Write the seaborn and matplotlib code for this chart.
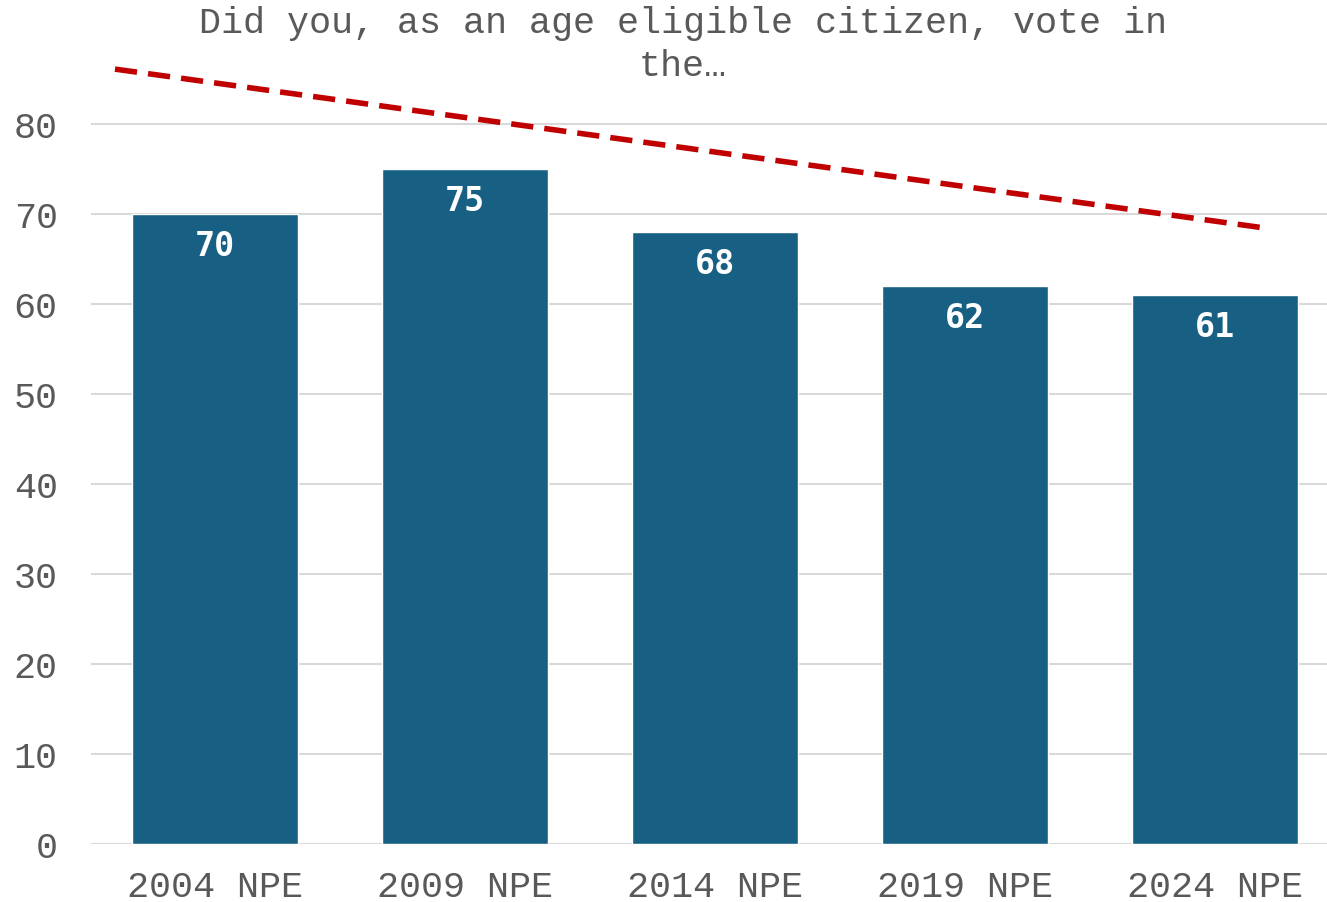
"""
Voter turnout bar chart
"""

import numpy as np
import pandas as pd
import matplotlib
matplotlib.use('Agg')
import matplotlib.pyplot as plt
import seaborn as sns

"""
Data
"""
elections = ['2004 NPE', '2009 NPE', '2014 NPE', '2019 NPE', '2024 NPE']
turnout = [70, 75, 68, 62, 61]
# decorative trend arrow drawn over the bars (start / end values)
trend_values = [86.1, 68.4]
trend_positions = [-0.40, 4.21]
title = 'Did you, as an age eligible citizen, vote in\nthe\u2026'

BAR_COLOR = '#176083'
TREND_COLOR = '#C00000'
TEXT_COLOR = '#595959'
GRID_COLOR = '#D9D9D9'
FONT_SIZE = 26.5

"""
Plot
"""


def main():
    sns.set_theme(style='white')
    plt.rcParams['font.family'] = ['Liberation Mono', 'DejaVu Sans Mono']

    df = pd.DataFrame({'election': elections, 'turnout': turnout})

    fig = plt.figure(figsize=(13.27, 9.03), dpi=100)
    ax = fig.add_axes([91 / 1327, 58 / 903, (1327 - 91) / 1327, 810 / 903])

    sns.barplot(data=df, x='election', y='turnout', color=BAR_COLOR,
                saturation=1, width=0.664, ax=ax, zorder=2)

    ax.set_ylim(0, 90)
    ax.set_xlim(-0.496, 4.448)
    ax.set_yticks(np.arange(0, 81, 10))
    ax.yaxis.grid(True, color=GRID_COLOR, linewidth=1.5, zorder=0)
    ax.set_axisbelow(True)
    for side in ['top', 'right', 'left', 'bottom']:
        ax.spines[side].set_visible(False)
    ax.set_xlabel('')
    ax.set_ylabel('')
    ax.tick_params(axis='both', length=0, labelsize=FONT_SIZE, labelcolor=TEXT_COLOR)
    ax.tick_params(axis='x', pad=18)
    ax.tick_params(axis='y', pad=24)

    # value labels inside the bars
    for i, v in enumerate(turnout):
        ax.annotate(str(v), (i, v), xytext=(0, -23), textcoords='offset points',
                    ha='center', va='center', color='white', fontsize=24,
                    fontweight='bold', family='DejaVu Sans Mono', zorder=4)

    ax.plot(trend_positions, trend_values, color=TREND_COLOR, linewidth=4,
            dashes=(4, 2), solid_capstyle='butt', dash_capstyle='butt',
            clip_on=False, zorder=5)

    fig.text(683 / 1327, 1 - 6 / 903, title, ha='center', va='top',
             fontsize=FONT_SIZE, color=TEXT_COLOR, linespacing=1.3)

    fig.savefig('out.png', dpi=100)
    plt.close(fig)


if __name__ == '__main__':
    main()
